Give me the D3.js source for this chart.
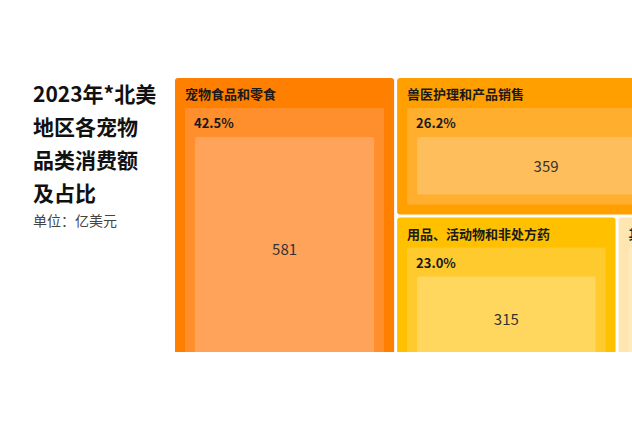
<!DOCTYPE html>
<html lang="zh">
<head>
  <meta charset="UTF-8">
  <title>北美宠物品类消费额</title>
  <script src="https://d3js.org/d3.v7.min.js"></script>
  <style>
    body { margin: 0; background: #fff; font-family: "Noto Sans CJK SC", "Noto Sans", sans-serif; }
  </style>
</head>
<body>
  <div id="chart"></div>
  <script>
    // 数据（单位：亿美元）
    const categories = ["宠物食品和零食", "兽医护理和产品销售", "用品、活动物和非处方药", "其他服务"];
    const values = [581, 359, 315, 113];
    const shares = ["42.5%", "26.2%", "23.0%", "8.3%"];
    const titleLines = ["2023年*北美", "地区各宠物", "品类消费额", "及占比"];
    const unitLabel = "单位：亿美元";

    // 每个品类三层颜色：外框、中层、内层
    const colors = [
      ["#ff7f00", "#ff8f2c", "#ffa35a"],
      ["#ffa000", "#ffae2e", "#ffbe5c"],
      ["#ffc000", "#ffca2e", "#ffd65e"],
      ["#ffe6b0", "#ffeabd", "#ffeec8"]
    ];

    const W = 632, H = 421;
    const svg = d3.select("#chart").append("svg")
      .attr("width", W).attr("height", H);

    // 标题
    svg.append("g").selectAll("text")
      .data(titleLines)
      .join("text")
      .attr("x", 33)
      .attr("y", (d, i) => 102 + i * 33)
      .style("font-size", "21px")
      .style("font-weight", "bold")
      .attr("fill", "#111")
      .text(d => d);

    svg.append("text")
      .attr("x", 33).attr("y", 226)
      .style("font-size", "14px")
      .attr("fill", "#444")
      .text(unitLabel);

    // 嵌套结构：食品 | (兽医 / (用品 | 其他))
    const leaves = categories.map((c, i) => ({ name: c, value: values[i], idx: i }));
    const tree = {
      name: "root",
      children: [leaves[0], { name: "r1", children: [leaves[1], { name: "r2", children: [leaves[2], leaves[3]] }] }]
    };

    const root = d3.hierarchy(tree).sum(d => d.value || 0);
    d3.treemap()
      .size([520, 303])
      .paddingInner(3)
      .tile((node, x0, y0, x1, y1) => (node.depth % 2 === 0 ? d3.treemapDice : d3.treemapSlice)(node, x0, y0, x1, y1))
      (root);

    // 原图在右侧和下方被裁切
    svg.append("clipPath").attr("id", "clip")
      .append("rect").attr("x", 0).attr("y", 0).attr("width", W).attr("height", 352);

    const g = svg.append("g")
      .attr("clip-path", "url(#clip)")
      .append("g")
      .attr("transform", "translate(175,78)");

    const cell = g.selectAll("g.cell")
      .data(root.leaves())
      .join("g")
      .attr("class", "cell");

    cell.append("rect")
      .attr("x", d => d.x0).attr("y", d => d.y0)
      .attr("width", d => d.x1 - d.x0).attr("height", d => d.y1 - d.y0)
      .attr("rx", 3)
      .attr("fill", d => colors[d.data.idx][0]);

    cell.append("rect")
      .attr("x", d => d.x0 + 10).attr("y", d => d.y0 + 30)
      .attr("width", d => d.x1 - d.x0 - 20).attr("height", d => d.y1 - d.y0 - 40)
      .attr("fill", d => colors[d.data.idx][1]);

    cell.append("rect")
      .attr("x", d => d.x0 + 20).attr("y", d => d.y0 + 59)
      .attr("width", d => d.x1 - d.x0 - 40).attr("height", d => d.y1 - d.y0 - 79)
      .attr("rx", 2)
      .attr("fill", d => colors[d.data.idx][2]);

    cell.append("text")
      .attr("x", d => d.x0 + 10).attr("y", d => d.y0 + 21)
      .style("font-size", "13px").style("font-weight", "bold")
      .attr("fill", "#1a1a1a")
      .text(d => d.data.name);

    cell.append("text")
      .attr("x", d => d.x0 + 19).attr("y", d => d.y0 + 50)
      .style("font-size", "13px").style("font-weight", "bold")
      .attr("fill", "#1a1a1a")
      .text(d => shares[d.data.idx]);

    cell.append("text")
      .attr("x", d => (d.x0 + d.x1) / 2)
      .attr("y", d => (d.y0 + 59 + d.y1 - 20) / 2 + 1)
      .attr("dy", "0.35em")
      .attr("text-anchor", "middle")
      .style("font-size", "15px")
      .attr("fill", "#333")
      .text(d => d.data.value);
  </script>
</body>
</html>
